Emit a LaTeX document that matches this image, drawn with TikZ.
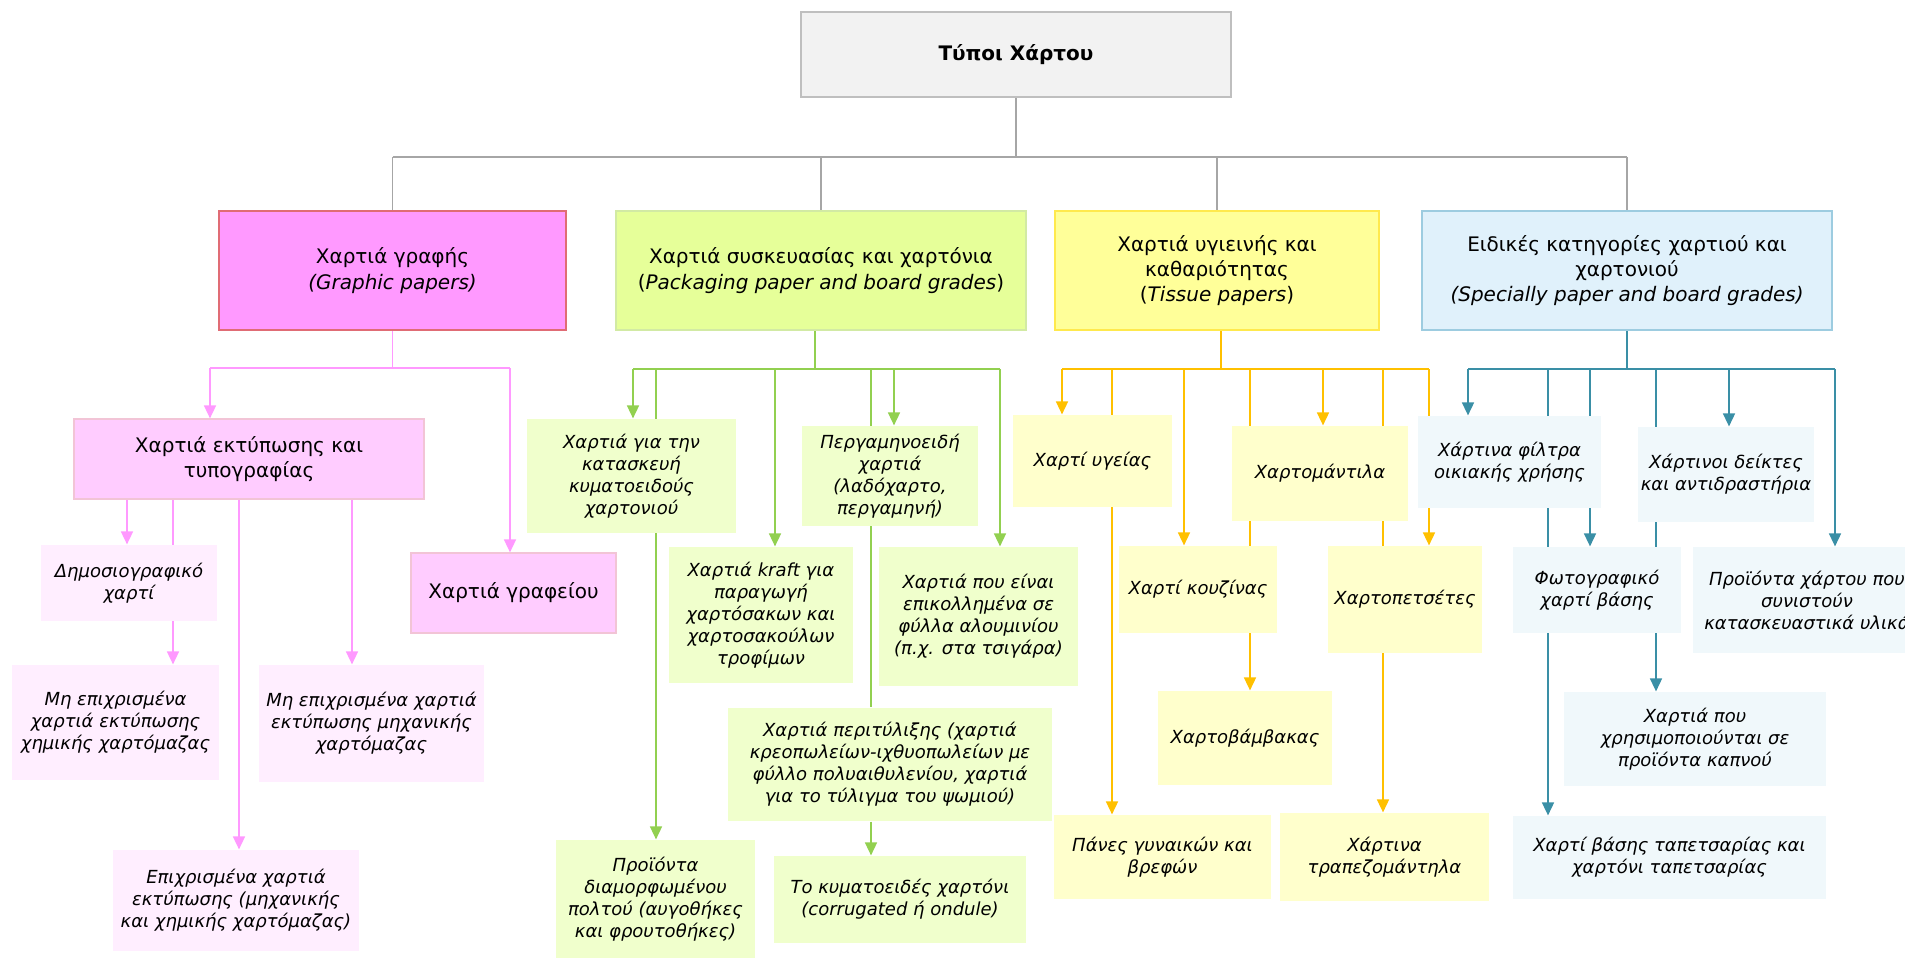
\documentclass[tikz,border=0pt]{standalone}
\usepackage{fontspec}
\setmainfont{DejaVu Sans}
\usetikzlibrary{arrows.meta}
\pgfdeclarelayer{bg}
\pgfsetlayers{bg,main}
\definecolor{rootfill}{HTML}{F2F2F2}
\definecolor{rootdraw}{HTML}{BFBFBF}
\definecolor{rootline}{HTML}{A6A6A6}
\definecolor{gtop}{HTML}{FF99FF}
\definecolor{gtopd}{HTML}{E06C75}
\definecolor{gmid}{HTML}{FFCCFF}
\definecolor{gmidd}{HTML}{F2C4D6}
\definecolor{gsub}{HTML}{FFEEFF}
\definecolor{garr}{HTML}{FF99FF}
\definecolor{ptop}{HTML}{E6FF99}
\definecolor{ptopd}{HTML}{D2EAA4}
\definecolor{psub}{HTML}{F0FFCC}
\definecolor{parr}{HTML}{92D050}
\definecolor{ttop}{HTML}{FFFF99}
\definecolor{ttopd}{HTML}{FFE94D}
\definecolor{tsub}{HTML}{FFFFCC}
\definecolor{tarr}{HTML}{FFC000}
\definecolor{stop}{HTML}{E0F1FB}
\definecolor{stopd}{HTML}{9DCCE0}
\definecolor{ssub}{HTML}{F0F8FB}
\definecolor{sarr}{HTML}{3A8FA6}
\newcommand{\bx}[7]{%
  \pgfmathsetmacro\cx{(#2+#4)/2}\pgfmathsetmacro\cy{(#3+#5)/2}%
  \pgfmathsetmacro\ww{(#4-#2)*0.5}\pgfmathsetmacro\hh{(#5-#3)*0.5}%
  \node[#6, minimum width=\ww pt, minimum height=\hh pt] (#1) at (\cx,\cy) {#7};}
\begin{document}
\begin{tikzpicture}[x=0.5pt,y=-0.5pt,
  box/.style={rectangle, inner sep=0pt, align=center, line width=0.6pt},
  topbox/.style={box, font=\fontsize{10pt}{12.6pt}\selectfont},
  subbox/.style={box, font=\fontsize{9pt}{11pt}\selectfont\itshape},
  rootbox/.style={box, fill=rootfill, draw=rootdraw, font=\fontsize{10pt}{12pt}\selectfont\bfseries},
  rl/.style={draw=rootline, line width=0.6pt},
  conn/.style={line width=0.8pt},
  arr/.style={conn, -{Triangle[length=6.5pt,width=6pt]}},
]
\useasboundingbox (0,0) rectangle (1905,958);
\clip (0,0) rectangle (1905,958);
% root
\bx{root}{801}{12}{1231}{97}{rootbox}{Τύποι Χάρτου}
% top level
\bx{G}{219}{211}{566}{330}{topbox, fill=gtop, draw=gtopd}{Χαρτιά γραφής\\\textit{(Graphic papers)}}
\bx{P}{616}{211}{1026}{330}{topbox, fill=ptop, draw=ptopd}{Χαρτιά συσκευασίας και χαρτόνια\\(\textit{Packaging paper and board grades})}
\bx{T}{1055}{211}{1379}{330}{topbox, fill=ttop, draw=ttopd}{Χαρτιά υγιεινής και\\καθαριότητας\\(\textit{Tissue papers})}
\bx{S}{1422}{211}{1832}{330}{topbox, fill=stop, draw=stopd}{Ειδικές κατηγορίες χαρτιού και\\χαρτονιού\\\textit{(Specially paper and board grades)}}
% graphic branch
\bx{E}{74}{419}{424}{499}{topbox, fill=gmid, draw=gmidd}{Χαρτιά εκτύπωσης και\\τυπογραφίας}
\bx{GR}{411}{553}{616}{633}{topbox, fill=gmid, draw=gmidd}{Χαρτιά γραφείου}
\bx{D}{41}{545}{217}{621}{subbox, fill=gsub}{Δημοσιογραφικό\\χαρτί}
\bx{M1}{12}{665}{219}{780}{subbox, fill=gsub}{Μη επιχρισμένα\\χαρτιά εκτύπωσης\\χημικής χαρτόμαζας}
\bx{M2}{259}{665}{484}{782}{subbox, fill=gsub}{Μη επιχρισμένα χαρτιά\\εκτύπωσης μηχανικής\\χαρτόμαζας}
\bx{EP}{113}{850}{359}{951}{subbox, fill=gsub}{Επιχρισμένα χαρτιά\\εκτύπωσης (μηχανικής\\και χημικής χαρτόμαζας)}
% packaging branch
\bx{K1}{527}{419}{736}{533}{subbox, fill=psub}{Χαρτιά για την\\κατασκευή\\κυματοειδούς\\χαρτονιού}
\bx{PE}{802}{426}{978}{526}{subbox, fill=psub}{Περγαμηνοειδή\\χαρτιά\\(λαδόχαρτο,\\περγαμηνή)}
\bx{KR}{669}{547}{853}{683}{subbox, fill=psub}{Χαρτιά kraft για\\παραγωγή\\χαρτόσακων και\\χαρτοσακούλων\\τροφίμων}
\bx{AL}{879}{547}{1078}{686}{subbox, fill=psub}{Χαρτιά που είναι\\επικολλημένα σε\\φύλλα αλουμινίου\\(π.χ. στα τσιγάρα)}
\bx{PT}{728}{708}{1052}{821}{subbox, fill=psub}{Χαρτιά περιτύλιξης (χαρτιά\\κρεοπωλείων-ιχθυοπωλείων με\\φύλλο πολυαιθυλενίου, χαρτιά\\για το τύλιγμα του ψωμιού)}
\bx{PR}{556}{840}{755}{958}{subbox, fill=psub}{Προϊόντα\\διαμορφωμένου\\πολτού (αυγοθήκες\\και φρουτοθήκες)}
\bx{KY}{774}{856}{1026}{943}{subbox, fill=psub}{Το κυματοειδές χαρτόνι\\(corrugated ή ondule)}
% tissue branch
\bx{YG}{1013}{415}{1172}{507}{subbox, fill=tsub}{Χαρτί υγείας}
\bx{XM}{1232}{426}{1408}{521}{subbox, fill=tsub}{Χαρτομάντιλα}
\bx{KZ}{1119}{546}{1277}{633}{subbox, fill=tsub}{Χαρτί κουζίνας}
\bx{XP}{1328}{546}{1482}{653}{subbox, fill=tsub}{Χαρτοπετσέτες}
\bx{XB}{1158}{691}{1332}{785}{subbox, fill=tsub}{Χαρτοβάμβακας}
\bx{PN}{1054}{815}{1271}{899}{subbox, fill=tsub}{Πάνες γυναικών και\\βρεφών}
\bx{TR}{1280}{813}{1489}{901}{subbox, fill=tsub}{Χάρτινα\\τραπεζομάντηλα}
% special branch
\bx{FI}{1418}{416}{1601}{508}{subbox, fill=ssub}{Χάρτινα φίλτρα\\οικιακής χρήσης}
\bx{DK}{1638}{427}{1814}{522}{subbox, fill=ssub}{Χάρτινοι δείκτες\\και αντιδραστήρια}
\bx{FO}{1513}{547}{1681}{633}{subbox, fill=ssub}{Φωτογραφικό\\χαρτί βάσης}
\bx{PX}{1693}{547}{1921}{653}{subbox, fill=ssub}{Προϊόντα χάρτου που\\συνιστούν\\κατασκευαστικά υλικά}
\bx{KP}{1564}{692}{1826}{786}{subbox, fill=ssub}{Χαρτιά που\\χρησιμοποιούνται σε\\προϊόντα καπνού}
\bx{TA}{1513}{816}{1826}{899}{subbox, fill=ssub}{Χαρτί βάσης ταπετσαρίας και\\χαρτόνι ταπετσαρίας}

\begin{pgfonlayer}{bg}
% root connectors
\coordinate (rb) at (1016,157);
\draw[rl] (root.south) -- (root.south |- rb);
\draw[rl] (G.north |- rb) -- (S.north |- rb);
\foreach \n in {G,P,T,S} {\draw[rl] (\n.north |- rb) -- (\n.north);}
% graphic
\begin{scope}[draw=garr, color=garr]
\coordinate (gb) at (392,368);
\coordinate (g1) at (210,368);
\coordinate (g2) at (510,368);
\draw[conn] (G.south) -- (G.south |- gb);
\draw[conn] (g1) -- (g2);
\draw[arr] (g1) -- (g1 |- E.north);
\draw[arr] (g2) -- (g2 |- GR.north);
\coordinate (e1) at (127,0);
\coordinate (e2) at (173,0);
\coordinate (e3) at (239,0);
\coordinate (e4) at (352,0);
\draw[arr] (e1 |- E.south) -- (e1 |- D.north);
\draw[arr] (e2 |- E.south) -- (e2 |- M1.north);
\draw[arr] (e3 |- E.south) -- (e3 |- EP.north);
\draw[arr] (e4 |- E.south) -- (e4 |- M2.north);
\end{scope}
% packaging
\begin{scope}[draw=parr, color=parr]
\coordinate (pb) at (815,369);
\coordinate (p1) at (633,369);
\coordinate (p2) at (656,369);
\coordinate (p3) at (775,369);
\coordinate (p4) at (871,369);
\coordinate (p5) at (894,369);
\coordinate (p6) at (1000,369);
\draw[conn] (P.south -| pb) -- (pb);
\draw[conn] (p1) -- (p6);
\draw[arr] (p1) -- (p1 |- K1.north);
\draw[arr] (p2) -- (p2 |- PR.north);
\draw[arr] (p3) -- (p3 |- KR.north);
\draw[conn] (p4) -- (p4 |- PT.north);
\draw[arr] (p4 |- PT.south) -- (p4 |- KY.north);
\draw[arr] (p5) -- (p5 |- PE.north);
\draw[arr] (p6) -- (p6 |- AL.north);
\end{scope}
% tissue
\begin{scope}[draw=tarr, color=tarr]
\coordinate (tb) at (1221,369);
\coordinate (t1) at (1062,369);
\coordinate (t2) at (1112,369);
\coordinate (t3) at (1184,369);
\coordinate (t4) at (1250,369);
\coordinate (t5) at (1323,369);
\coordinate (t6) at (1383,369);
\coordinate (t7) at (1429,369);
\draw[conn] (T.south -| tb) -- (tb);
\draw[conn] (t1) -- (t7);
\draw[arr] (t1) -- (t1 |- YG.north);
\draw[arr] (t2) -- (t2 |- PN.north);
\draw[arr] (t3) -- (t3 |- KZ.north);
\draw[arr] (t4) -- (t4 |- XB.north);
\draw[arr] (t5) -- (t5 |- XM.north);
\draw[arr] (t6) -- (t6 |- TR.north);
\draw[arr] (t7) -- (t7 |- XP.north);
\end{scope}
% special
\begin{scope}[draw=sarr, color=sarr]
\coordinate (sb) at (1627,369);
\coordinate (s1) at (1468,369);
\coordinate (s2) at (1548,369);
\coordinate (s3) at (1590,369);
\coordinate (s4) at (1656,369);
\coordinate (s5) at (1729,369);
\coordinate (s6) at (1835,369);
\draw[conn] (S.south) -- (S.south |- sb);
\draw[conn] (s1) -- (s6);
\draw[arr] (s1) -- (s1 |- FI.north);
\draw[arr] (s2) -- (s2 |- TA.north);
\draw[arr] (s3) -- (s3 |- FO.north);
\draw[arr] (s4) -- (s4 |- KP.north);
\draw[arr] (s5) -- (s5 |- DK.north);
\draw[arr] (s6) -- (s6 |- PX.north);
\end{scope}
\end{pgfonlayer}
\end{tikzpicture}
\end{document}
